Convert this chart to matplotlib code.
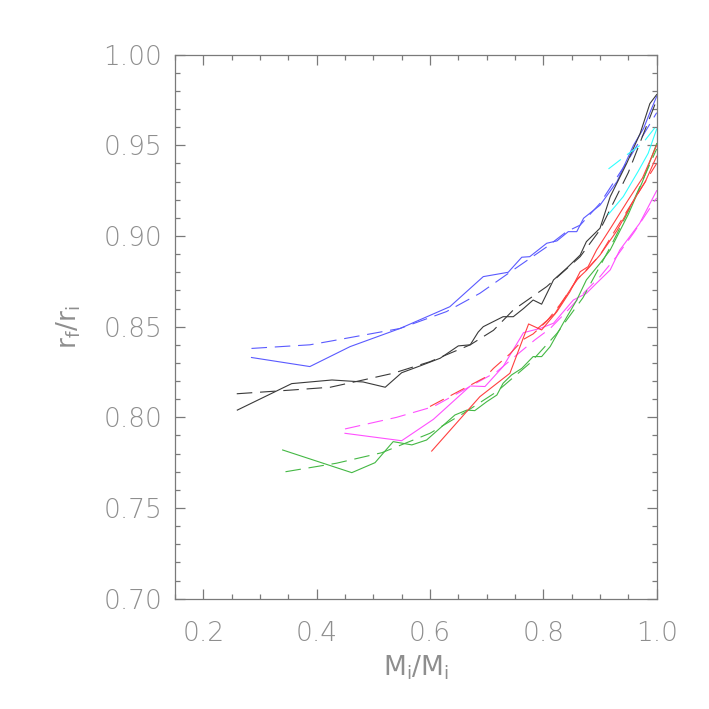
import numpy as np
import matplotlib
matplotlib.use("Agg")
import matplotlib.pyplot as plt
from matplotlib.ticker import MultipleLocator, FormatStrFormatter

# values (x = M_i/M_i, y = r_f/r_i)
blue_x = [0.285, 0.388, 0.459, 0.547, 0.635, 0.694, 0.738, 0.762, 0.776, 0.806,
          0.824, 0.844, 0.859, 0.871, 0.900, 0.930, 0.959, 0.977, 0.988, 1.000]
blue_y = [0.833, 0.828, 0.839, 0.849, 0.861, 0.8776, 0.880, 0.8883, 0.8886, 0.896,
          0.8973, 0.9024, 0.9024, 0.9098, 0.917, 0.930, 0.950, 0.9594, 0.968, 0.977]
blue_fit_x = [0.285, 0.388, 0.424, 0.547, 0.629, 0.688, 0.747, 0.806, 0.841, 0.865,
              0.900, 0.950, 1.000]
blue_fit_y = [0.838, 0.840, 0.842, 0.849, 0.8583, 0.8684, 0.8813, 0.894, 0.9024, 0.906,
              0.918, 0.942, 0.968]

black_x = [0.260, 0.356, 0.427, 0.482, 0.521, 0.550, 0.582, 0.618, 0.650, 0.671,
           0.685, 0.694, 0.729, 0.747, 0.765, 0.782, 0.797, 0.818, 0.841, 0.865,
           0.876, 0.900, 0.918, 0.947, 0.971, 0.988, 1.000]
black_y = [0.804, 0.8186, 0.8206, 0.8195, 0.8166, 0.8246, 0.8283, 0.8326, 0.8394, 0.840,
           0.847, 0.850, 0.8555, 0.8555, 0.860, 0.8647, 0.8624, 0.8758, 0.8822, 0.8895,
           0.8969, 0.9043, 0.9217, 0.940, 0.9567, 0.973, 0.978]
black_fit_x = [0.259, 0.353, 0.424, 0.482, 0.535, 0.600, 0.671, 0.712, 0.747, 0.806,
               0.865, 0.900, 0.950, 1.000]
black_fit_y = [0.813, 0.815, 0.8166, 0.8206, 0.8243, 0.8307, 0.840, 0.848, 0.8592, 0.8721,
               0.8886, 0.9034, 0.935, 0.975]

magenta_x = [0.450, 0.550, 0.606, 0.671, 0.697, 0.729, 0.765, 0.794, 0.818, 0.853,
             0.876, 0.894, 0.918, 0.935, 0.970, 1.000]
magenta_y = [0.7912, 0.7871, 0.7989, 0.8173, 0.817, 0.828, 0.8467, 0.849, 0.8519, 0.8647,
             0.8684, 0.874, 0.8813, 0.8923, 0.907, 0.925]
magenta_fit_x = [0.450, 0.541, 0.606, 0.659, 0.718, 0.753, 0.785, 0.812, 0.841, 0.865,
                 0.900, 0.929, 0.960, 1.000]
magenta_fit_y = [0.7936, 0.800, 0.8059, 0.815, 0.8252, 0.8344, 0.8427, 0.849, 0.8583, 0.8666,
                 0.8776, 0.8886, 0.902, 0.921]

green_x = [0.340, 0.462, 0.503, 0.535, 0.568, 0.594, 0.644, 0.665, 0.679, 0.700,
           0.718, 0.729, 0.744, 0.762, 0.782, 0.797, 0.812, 0.835, 0.859, 0.876,
           0.900, 0.918, 0.950, 0.975, 1.000]
green_y = [0.782, 0.7695, 0.775, 0.7866, 0.7848, 0.7875, 0.8013, 0.804, 0.8037, 0.8086,
           0.8123, 0.8188, 0.8234, 0.827, 0.8335, 0.8335, 0.839, 0.8519, 0.8647, 0.8758,
           0.8849, 0.8923, 0.912, 0.930, 0.951]
green_fit_x = [0.345, 0.435, 0.515, 0.600, 0.659, 0.718, 0.776, 0.824, 0.870, 0.920,
               0.960, 1.000]
green_fit_y = [0.770, 0.7747, 0.7805, 0.7912, 0.8022, 0.8142, 0.8298, 0.8463, 0.866, 0.895,
               0.920, 0.948]

red_x = [0.603, 0.688, 0.741, 0.774, 0.797, 0.824, 0.847, 0.865, 0.879, 0.894,
         0.920, 0.950, 0.975, 1.000]
red_y = [0.7814, 0.8114, 0.8243, 0.8515, 0.8482, 0.8583, 0.8693, 0.8803, 0.8831, 0.8923,
         0.905, 0.920, 0.932, 0.950]
red2_x = [0.790, 0.820, 0.859, 0.876, 0.900, 0.930, 0.960, 0.980, 1.000]
red2_y = [0.849, 0.857, 0.876, 0.881, 0.8895, 0.903, 0.920, 0.930, 0.944]
red_fit_x = [0.600, 0.697, 0.712, 0.741, 0.765, 0.782, 0.806, 0.829, 0.860, 0.900,
             0.950, 1.000]
red_fit_y = [0.806, 0.822, 0.827, 0.835, 0.843, 0.846, 0.853, 0.862, 0.876, 0.8895,
             0.915, 0.940]

cyan_x = [0.915, 0.941, 0.967, 0.985, 1.000]
cyan_y = [0.912, 0.9217, 0.9355, 0.9456, 0.959]
cyan_fit_x = [0.915, 0.947, 0.975, 1.000]
cyan_fit_y = [0.937, 0.9447, 0.951, 0.961]

AXC = "#7a7a7a"
TXC = "#8e8e8e"
plt.rcParams["font.family"] = "DejaVu Sans"
plt.rcParams["font.weight"] = "light"
plt.rcParams["mathtext.default"] = "regular"

fig = plt.figure(figsize=(7.09, 7.09), dpi=100)
ax = fig.add_axes([0.2468, 0.1556, 0.6794, 0.7673])

dash = (0, (14, 7))
lw = 0.8
series = [
    (blue_x, blue_y, blue_fit_x, blue_fit_y, "#5a5aff"),
    (black_x, black_y, black_fit_x, black_fit_y, "#3a3a3a"),
    (magenta_x, magenta_y, magenta_fit_x, magenta_fit_y, "#ff50ff"),
    (green_x, green_y, green_fit_x, green_fit_y, "#44b844"),
    (red_x, red_y, red_fit_x, red_fit_y, "#ff4040"),
    (cyan_x, cyan_y, cyan_fit_x, cyan_fit_y, "#30ffff"),
]
for x, y, fx, fy, c in series:
    ax.plot(x, y, color=c, lw=lw)
    ax.plot(fx, fy, color=c, lw=lw, ls=dash)
ax.plot(red2_x, red2_y, color="#ff4040", lw=lw)

ax.set_xlim(0.15, 1.0)
ax.set_ylim(0.70, 1.00)
ax.xaxis.set_major_locator(MultipleLocator(0.2))
ax.xaxis.set_minor_locator(MultipleLocator(0.05))
ax.yaxis.set_major_locator(MultipleLocator(0.05))
ax.yaxis.set_minor_locator(MultipleLocator(0.01))
ax.xaxis.set_major_formatter(FormatStrFormatter("%.1f"))
ax.yaxis.set_major_formatter(FormatStrFormatter("%.2f"))

for s in ax.spines.values():
    s.set_color(AXC)
    s.set_linewidth(0.9)
ax.tick_params(which="both", direction="in", top=True, right=True, color=AXC,
               width=0.9, labelcolor=TXC, labelsize=19)
ax.tick_params(which="major", length=7)
ax.tick_params(which="minor", length=3.6)
ax.tick_params(axis="x", pad=16)
ax.tick_params(axis="y", pad=9)

ax.set_xlabel(r"$M_i/M_i$", fontsize=19, color=TXC)
ax.set_ylabel(r"$r_f/r_i$", fontsize=19, color=TXC)
ax.xaxis.set_label_coords(0.5, -0.1)
ax.yaxis.set_label_coords(-0.19, 0.5)

fig.savefig("out.png", dpi=100)
